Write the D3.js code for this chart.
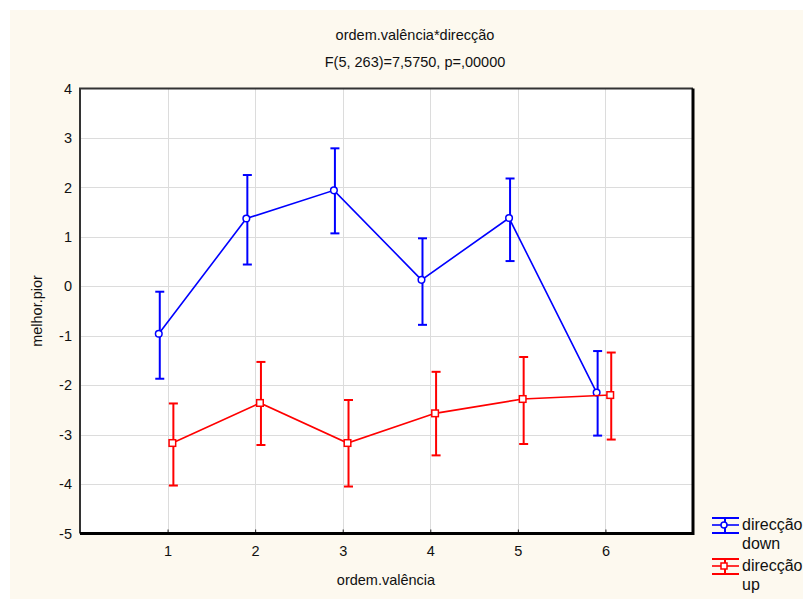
<!DOCTYPE html>
<html>
<head>
<meta charset="utf-8">
<script src="https://cdn.jsdelivr.net/npm/d3@7"></script>
<style>
  html, body { margin: 0; padding: 0; background: #ffffff; }
  svg { display: block; font-family: "Liberation Sans", Arial, sans-serif; }
</style>
</head>
<body>
<svg id="chart" width="803" height="599"></svg>
<script>
// Levels of ordem.valência
const categories = [1, 2, 3, 4, 5, 6];
const xTicks = [1, 2, 3, 4, 5, 6];
const yTicks = [4, 3, 2, 1, 0, -1, -2, -3, -4, -5];

// direcção = down: means with lower / upper interval limits
const downMean  = [-0.96, 1.37, 1.94, 0.13, 1.38, -2.15];
const downLower = [-1.87, 0.44, 1.07, -0.78, 0.51, -3.02];
const downUpper = [-0.11, 2.25, 2.79, 0.97, 2.18, -1.31];

// direcção = up
const upMean  = [-3.17, -2.36, -3.17, -2.57, -2.28, -2.20];
const upLower = [-4.03, -3.21, -4.05, -3.42, -3.19, -3.10];
const upUpper = [-2.37, -1.53, -2.30, -1.73, -1.43, -1.34];

const titleLine1 = "ordem.valência*direcção";
const titleLine2 = "F(5, 263)=7,5750, p=,00000";
const xLabel = "ordem.valência";
const yLabel = "melhor.pior";
const seriesNames = ["direcção\ndown", "direcção\nup"];

const FS = 14.5;
const svg = d3.select("#chart");

// cream page background
svg.append("rect").attr("x", 10).attr("y", 10).attr("width", 793).attr("height", 589)
  .attr("fill", "#fdf9ef");

const plot = { left: 80, right: 693, top: 88.5, bottom: 533.5 };
const x = d3.scaleLinear().domain([0, 7]).range([plot.left, plot.right]);
const y = d3.scaleLinear().domain([-5, 4]).range([plot.bottom, plot.top]);

// plot area
svg.append("rect").attr("x", plot.left).attr("y", plot.top)
  .attr("width", plot.right - plot.left).attr("height", plot.bottom - plot.top)
  .attr("fill", "#ffffff");

// grid
const grid = svg.append("g").attr("stroke", "#dcdcdc").attr("stroke-width", 1);
grid.selectAll("line.v").data(xTicks).join("line")
  .attr("x1", d => Math.round(x(d)) + 0.5).attr("x2", d => Math.round(x(d)) + 0.5)
  .attr("y1", plot.top).attr("y2", plot.bottom);
grid.selectAll("line.h").data(yTicks.filter(d => d > -5 && d < 4)).join("line")
  .attr("x1", plot.left).attr("x2", plot.right)
  .attr("y1", d => Math.round(y(d)) + 0.5).attr("y2", d => Math.round(y(d)) + 0.5);

// axes (plain hyphen for negatives)
const fmt = d => String(d);
const xAxis = d3.axisBottom(x).tickValues(xTicks).tickSize(-4).tickPadding(12).tickFormat(fmt);
const yAxis = d3.axisLeft(y).tickValues(yTicks).tickSize(0).tickPadding(8).tickFormat(fmt);

const gx = svg.append("g").attr("transform", `translate(0,${plot.bottom})`).call(xAxis);
gx.select(".domain").remove();
gx.selectAll(".tick line").attr("stroke", "#222").attr("stroke-width", 1);
gx.selectAll(".tick text").attr("font-size", FS).attr("fill", "#111")
  .attr("font-family", "Liberation Sans, Arial, sans-serif");

const gy = svg.append("g").attr("transform", `translate(${plot.left},0)`).call(yAxis);
gy.select(".domain").remove();
gy.selectAll(".tick text").attr("font-size", FS).attr("fill", "#111")
  .attr("font-family", "Liberation Sans, Arial, sans-serif");

// frame: thin on top/left, heavier on right/bottom
svg.append("path")
  .attr("d", `M${plot.left},${plot.bottom} V${plot.top} H${plot.right}`)
  .attr("fill", "none").attr("stroke", "#333").attr("stroke-width", 2);
svg.append("path")
  .attr("d", `M${plot.left},${plot.bottom} H${plot.right} V${plot.top}`)
  .attr("fill", "none").attr("stroke", "#000").attr("stroke-width", 3);

// titles
svg.append("text").attr("x", 415).attr("y", 40).attr("text-anchor", "middle")
  .attr("font-size", FS).attr("fill", "#111").text(titleLine1);
svg.append("text").attr("x", 415).attr("y", 67).attr("text-anchor", "middle")
  .attr("font-size", FS).attr("fill", "#111").text(titleLine2);
svg.append("text").attr("x", 386).attr("y", 585).attr("text-anchor", "middle")
  .attr("font-size", FS).attr("fill", "#111").text(xLabel);
svg.append("text").attr("transform", "translate(42,311) rotate(-90)").attr("text-anchor", "middle")
  .attr("font-size", FS).attr("fill", "#111").text(yLabel);

// series
const series = [
  { mean: downMean, lo: downLower, hi: downUpper, color: "#0000ff", dx: -8.8, marker: "circle" },
  { mean: upMean,   lo: upLower,   hi: upUpper,   color: "#ff0000", dx: 4.8,  marker: "square" }
];

const capW = 4.5;
series.forEach(s => {
  const pts = categories.map((c, i) => ({ px: x(c) + s.dx, m: s.mean[i], lo: s.lo[i], hi: s.hi[i] }));
  const g = svg.append("g");
  g.append("path").datum(pts)
    .attr("d", d3.line().x(d => d.px).y(d => y(d.m)))
    .attr("fill", "none").attr("stroke", s.color).attr("stroke-width", 1.6);
  const eb = g.selectAll("g.eb").data(pts).join("g").attr("stroke", s.color).attr("stroke-width", 2);
  eb.append("line").attr("x1", d => d.px + 1).attr("x2", d => d.px + 1)
    .attr("y1", d => y(d.lo)).attr("y2", d => y(d.hi));
  eb.append("line").attr("x1", d => d.px + 1 - capW).attr("x2", d => d.px + 1 + capW)
    .attr("y1", d => y(d.lo)).attr("y2", d => y(d.lo));
  eb.append("line").attr("x1", d => d.px + 1 - capW).attr("x2", d => d.px + 1 + capW)
    .attr("y1", d => y(d.hi)).attr("y2", d => y(d.hi));
  if (s.marker === "circle") {
    g.selectAll("circle").data(pts).join("circle")
      .attr("cx", d => d.px).attr("cy", d => y(d.m)).attr("r", 3.3)
      .attr("fill", "#ffffff").attr("stroke", s.color).attr("stroke-width", 1.5);
  } else {
    g.selectAll("rect.mk").data(pts).join("rect")
      .attr("x", d => d.px - 3.3).attr("y", d => y(d.m) - 3.3).attr("width", 6.6).attr("height", 6.6)
      .attr("fill", "#ffffff").attr("stroke", s.color).attr("stroke-width", 1.5);
  }
});

// legend
const legend = svg.append("g");
series.forEach((s, i) => {
  const y0 = 525 + i * 41;
  const lg = legend.append("g").attr("stroke", s.color);
  lg.append("line").attr("x1", 712).attr("x2", 739).attr("y1", y0 - 7).attr("y2", y0 - 7).attr("stroke-width", 2);
  lg.append("line").attr("x1", 712).attr("x2", 739).attr("y1", y0).attr("y2", y0).attr("stroke-width", 1.6);
  lg.append("line").attr("x1", 712).attr("x2", 739).attr("y1", y0 + 8).attr("y2", y0 + 8).attr("stroke-width", 2);
  lg.append("line").attr("x1", 725).attr("x2", 725).attr("y1", y0 - 7).attr("y2", y0 + 8).attr("stroke-width", 2);
  if (s.marker === "circle") {
    lg.append("circle").attr("cx", 724).attr("cy", y0).attr("r", 3).attr("fill", "#fff").attr("stroke-width", 1.5);
  } else {
    lg.append("rect").attr("x", 721).attr("y", y0 - 3).attr("width", 6).attr("height", 6)
      .attr("fill", "#fff").attr("stroke-width", 1.5);
  }
  const lines = seriesNames[i].split("\n");
  const t = legend.append("text").attr("x", 742).attr("y", y0 + 5).attr("font-size", 16).attr("fill", "#111");
  lines.forEach((ln, k) => t.append("tspan").attr("x", 742).attr("dy", k === 0 ? 0 : 19).text(ln));
});
</script>
</body>
</html>
